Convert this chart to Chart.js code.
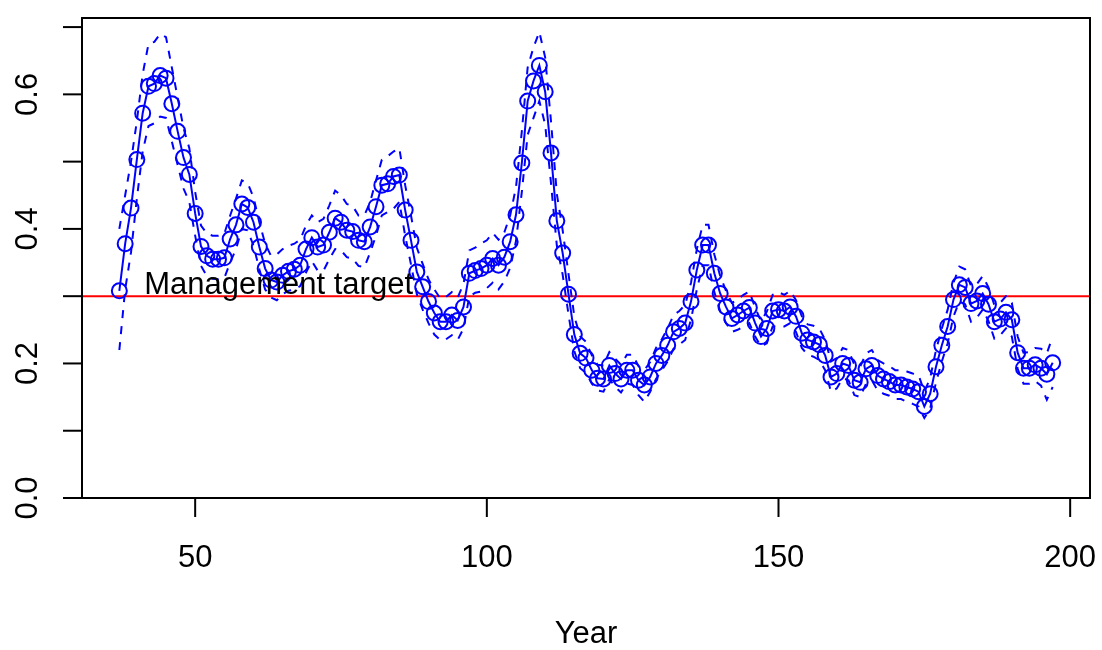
<!DOCTYPE html>
<html>
<head>
<meta charset="utf-8">
<title>Harvest rate</title>
<script src="https://cdn.jsdelivr.net/npm/chart.js@4.4.1/dist/chart.umd.min.js"></script>
<style>
    body { margin: 0; background: #fff; }
    #wrap { width: 1102px; height: 650px; }
</style>
</head>
<body>
<div id="wrap"><canvas id="myChart" width="1102" height="650"></canvas></div>
<script>
// years 37..197, one value per year
const firstYear = 37;

const estimate = [
    0.308, 0.378, 0.431, 0.503, 0.572, 0.612, 0.616, 0.628, 0.624, 0.586,
    0.545, 0.506, 0.481, 0.423, 0.374, 0.360, 0.355, 0.355, 0.357, 0.385,
    0.406, 0.437, 0.432, 0.410, 0.373, 0.341, 0.324, 0.321, 0.331, 0.337,
    0.340, 0.346, 0.370, 0.387, 0.373, 0.376, 0.395, 0.416, 0.410, 0.398,
    0.396, 0.383, 0.381, 0.403, 0.433, 0.465, 0.467, 0.478, 0.480, 0.428,
    0.383, 0.336, 0.314, 0.292, 0.275, 0.262, 0.262, 0.272, 0.264, 0.284,
    0.334, 0.338, 0.341, 0.346, 0.356, 0.346, 0.358, 0.381, 0.421, 0.498,
    0.590, 0.620, 0.643, 0.604, 0.513, 0.412, 0.364, 0.303, 0.243, 0.215,
    0.208, 0.190, 0.178, 0.177, 0.197, 0.185, 0.177, 0.190, 0.190, 0.175,
    0.168, 0.180, 0.200, 0.212, 0.227, 0.247, 0.252, 0.260, 0.292, 0.339,
    0.376, 0.376, 0.334, 0.304, 0.284, 0.267, 0.272, 0.278, 0.283, 0.260,
    0.240, 0.252, 0.278, 0.280, 0.278, 0.284, 0.270, 0.245, 0.235, 0.232,
    0.228, 0.212, 0.180, 0.185, 0.200, 0.197, 0.175, 0.172, 0.192, 0.197,
    0.182, 0.177, 0.173, 0.168, 0.168, 0.165, 0.162, 0.158, 0.136, 0.155,
    0.195, 0.227, 0.255, 0.295, 0.317, 0.313, 0.289, 0.293, 0.304, 0.288,
    0.262, 0.266, 0.276, 0.265, 0.216, 0.193, 0.193, 0.198, 0.193, 0.184,
    0.201
];

const upper = [
    0.400, 0.450, 0.500, 0.560, 0.630, 0.675, 0.678, 0.690, 0.685, 0.640,
    0.595, 0.550, 0.520, 0.455, 0.405, 0.393, 0.390, 0.390, 0.393, 0.420,
    0.445, 0.472, 0.468, 0.447, 0.410, 0.378, 0.360, 0.362, 0.370, 0.375,
    0.378, 0.384, 0.405, 0.420, 0.410, 0.415, 0.435, 0.457, 0.450, 0.437,
    0.434, 0.420, 0.420, 0.440, 0.472, 0.503, 0.508, 0.515, 0.520, 0.465,
    0.420, 0.372, 0.348, 0.325, 0.310, 0.297, 0.299, 0.306, 0.298, 0.318,
    0.368, 0.372, 0.378, 0.383, 0.394, 0.384, 0.395, 0.420, 0.462, 0.545,
    0.640, 0.670, 0.693, 0.655, 0.560, 0.452, 0.398, 0.333, 0.270, 0.240,
    0.232, 0.212, 0.198, 0.197, 0.217, 0.207, 0.198, 0.213, 0.213, 0.196,
    0.190, 0.202, 0.223, 0.236, 0.252, 0.272, 0.278, 0.287, 0.320, 0.370,
    0.406, 0.406, 0.362, 0.330, 0.308, 0.290, 0.295, 0.302, 0.307, 0.283,
    0.263, 0.277, 0.302, 0.306, 0.302, 0.308, 0.294, 0.270, 0.258, 0.256,
    0.252, 0.235, 0.203, 0.208, 0.223, 0.220, 0.198, 0.195, 0.215, 0.220,
    0.205, 0.200, 0.196, 0.190, 0.190, 0.188, 0.185, 0.183, 0.158, 0.178,
    0.220, 0.252, 0.280, 0.320, 0.344, 0.340, 0.315, 0.318, 0.330, 0.313,
    0.287, 0.290, 0.300, 0.290, 0.240, 0.216, 0.217, 0.223, 0.222, 0.215,
    0.240
];

const lower = [
    0.220, 0.310, 0.365, 0.445, 0.515, 0.553, 0.557, 0.567, 0.565, 0.530,
    0.495, 0.460, 0.440, 0.390, 0.345, 0.330, 0.326, 0.325, 0.327, 0.350,
    0.370, 0.400, 0.398, 0.375, 0.340, 0.310, 0.298, 0.294, 0.303, 0.308,
    0.310, 0.315, 0.335, 0.352, 0.338, 0.338, 0.355, 0.370, 0.368, 0.358,
    0.356, 0.345, 0.343, 0.365, 0.390, 0.420, 0.425, 0.430, 0.440, 0.390,
    0.347, 0.303, 0.280, 0.260, 0.243, 0.235, 0.236, 0.242, 0.235, 0.252,
    0.300, 0.305, 0.307, 0.312, 0.320, 0.310, 0.322, 0.342, 0.382, 0.455,
    0.540, 0.565, 0.590, 0.555, 0.468, 0.375, 0.332, 0.273, 0.218, 0.193,
    0.186, 0.170, 0.160, 0.158, 0.177, 0.165, 0.157, 0.170, 0.168, 0.153,
    0.143, 0.158, 0.177, 0.190, 0.203, 0.222, 0.228, 0.235, 0.265, 0.310,
    0.346, 0.346, 0.306, 0.278, 0.260, 0.247, 0.250, 0.255, 0.260, 0.240,
    0.225, 0.230, 0.255, 0.255, 0.255, 0.260, 0.247, 0.223, 0.213, 0.210,
    0.205, 0.190, 0.158, 0.163, 0.178, 0.175, 0.153, 0.150, 0.170, 0.175,
    0.160, 0.155, 0.152, 0.147, 0.147, 0.143, 0.140, 0.136, 0.119, 0.133,
    0.172, 0.203, 0.230, 0.270, 0.292, 0.288, 0.262, 0.268, 0.280, 0.263,
    0.237, 0.242, 0.252, 0.240, 0.192, 0.170, 0.170, 0.174, 0.167, 0.146,
    0.165
];

const target = 0.3;
const xTicks = [50, 100, 150, 200];
const yTicks = [0, 0.1, 0.2, 0.3, 0.4, 0.5, 0.6, 0.7];
const yLabels = ['0.0', '0.2', '0.4', '0.6'];
const xMin = 30.6, xMax = 203.4;
const yMin = 0, yMax = 0.7135;

const blue = '#0000ff';
const font = '"Liberation Sans", Arial, Helvetica, sans-serif';

function toPoints(values) {
    return values.map((v, i) => ({ x: firstYear + i, y: v }));
}

// R style box, ticks and labels, placed with the chart's own scales
const rAxes = {
    id: 'rAxes',
    afterDatasetsDraw(chart) {
        const ctx = chart.ctx;
        const a = chart.chartArea;
        const x = chart.scales.x;
        const y = chart.scales.y;
        ctx.save();
        ctx.strokeStyle = '#000';
        ctx.fillStyle = '#000';
        ctx.lineWidth = 2;
        ctx.strokeRect(a.left, a.top, a.right - a.left, a.bottom - a.top);

        ctx.font = '31px ' + font;
        ctx.textAlign = 'center';
        ctx.textBaseline = 'middle';

        xTicks.forEach(v => {
            const px = x.getPixelForValue(v);
            ctx.beginPath();
            ctx.moveTo(px, a.bottom);
            ctx.lineTo(px, a.bottom + 19);
            ctx.stroke();
            ctx.fillText(String(v), px, a.bottom + 60);
        });

        yTicks.forEach(v => {
            const py = y.getPixelForValue(v);
            ctx.beginPath();
            ctx.moveTo(a.left, py);
            ctx.lineTo(a.left - 19, py);
            ctx.stroke();
        });

        yLabels.forEach(l => {
            const py = y.getPixelForValue(parseFloat(l));
            ctx.save();
            ctx.translate(a.left - 54, py);
            ctx.rotate(-Math.PI / 2);
            ctx.fillText(l, 0, 0);
            ctx.restore();
        });

        ctx.fillText('Year', (a.left + a.right) / 2, a.bottom + 136);

        // Management target label
        ctx.textBaseline = 'alphabetic';
        ctx.fillText('Management target', x.getPixelForValue(64.3), y.getPixelForValue(0.303));
        ctx.restore();
    }
};

const data = {
    datasets: [
        {
            label: 'Estimate',
            data: toPoints(estimate),
            borderColor: blue,
            borderWidth: 2,
            pointRadius: 7.5,
            pointBorderWidth: 2,
            pointBorderColor: blue,
            pointBackgroundColor: 'rgba(0,0,0,0)',
            tension: 0
        },
        {
            label: 'Upper',
            data: toPoints(upper),
            borderColor: blue,
            borderWidth: 2,
            borderDash: [8, 8],
            pointRadius: 0,
            tension: 0
        },
        {
            label: 'Lower',
            data: toPoints(lower),
            borderColor: blue,
            borderWidth: 2,
            borderDash: [8, 8],
            pointRadius: 0,
            tension: 0
        },
        {
            label: 'Management target',
            data: [{ x: xMin, y: target }, { x: xMax, y: target }],
            borderColor: '#ff0000',
            borderWidth: 2,
            pointRadius: 0,
            tension: 0
        }
    ]
};

const config = {
    type: 'line',
    data: data,
    options: {
        responsive: false,
        animation: false,
        devicePixelRatio: 1,
        layout: {
            padding: { left: 82, top: 18, right: 12, bottom: 152 }
        },
        scales: {
            x: { type: 'linear', min: xMin, max: xMax, display: false },
            y: { type: 'linear', min: yMin, max: yMax, display: false }
        },
        plugins: {
            legend: { display: false },
            tooltip: { enabled: false }
        }
    },
    plugins: [rAxes]
};

const ctx = document.getElementById('myChart').getContext('2d');
new Chart(ctx, config);
</script>
</body>
</html>
